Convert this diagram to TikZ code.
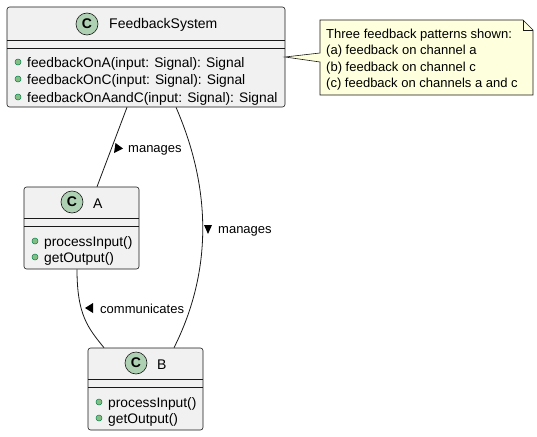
\documentclass[tikz,border=0pt]{standalone}
\usepackage{fontspec}
\setmainfont{Liberation Sans}
\begin{document}
\begin{tikzpicture}[x=1pt,y=-1pt,
  classbox/.style={draw=black!90,fill=boxfill,line width=0.6pt,rounded corners=2.5pt,inner sep=0pt},
  sep/.style={draw=black!90,line width=0.6pt},
  cbadge/.style={circle,draw=black!90,fill=badge,line width=0.6pt,minimum size=22pt,inner sep=0pt,font=\fontsize{14}{14}\selectfont\bfseries},
  ttl/.style={anchor=base west,inner sep=0pt,font=\fontsize{14}{14}\selectfont},
  mem/.style={anchor=base west,inner sep=0pt,font=\fontsize{13.8}{13.8}\selectfont},
  lbl/.style={anchor=base west,inner sep=0pt,font=\fontsize{13}{13}\selectfont},
  bullet/.style={circle,draw=bulletdraw,fill=bulletfill,line width=0.5pt,minimum size=6pt,inner sep=0pt},
  edge/.style={draw=black!90,line width=0.8pt},
  tri/.style={fill=black}
]
\definecolor{boxfill}{HTML}{F1F1F1}
\definecolor{badge}{HTML}{ADD1B2}
\definecolor{bulletfill}{HTML}{84BE84}
\definecolor{bulletdraw}{HTML}{038048}
\definecolor{notefill}{HTML}{FEFFDD}
\useasboundingbox (0,0) rectangle (537,436);

% FeedbackSystem
\node[classbox,minimum width=278pt,minimum height=100pt] (fs) at (146,57) {};
\draw[sep] (7,40) -- (285,40) (7,48) -- (285,48);
\node[cbadge] (fsc) at (87,24) {C};
\node[ttl] (fst) at (109,29) {FeedbackSystem};
\node[bullet] (fsb1) at (18,62) {};
\node[bullet] (fsb2) at (18,79) {};
\node[bullet] (fsb3) at (18,97) {};
\node[mem] (fsm1) at (27,67) {feedbackOnA(input: Signal): Signal};
\node[mem] (fsm2) at (27,84) {feedbackOnC(input: Signal): Signal};
\node[mem] (fsm3) at (27,102) {feedbackOnAandC(input: Signal): Signal};

% A
\node[classbox,minimum width=115pt,minimum height=82pt] (a) at (81.5,228) {};
\draw[sep] (24,218) -- (139,218) (24,226) -- (139,226);
\node[cbadge] (ac) at (72,202) {C};
\node[ttl] (at) at (93,208) {A};
\node[bullet] (ab1) at (35,241) {};
\node[bullet] (ab2) at (35,257) {};
\node[mem] (am1) at (44,246) {processInput()};
\node[mem] (am2) at (44,262) {getOutput()};

% B
\node[classbox,minimum width=115pt,minimum height=82pt] (b) at (145.5,389) {};
\draw[sep] (88,379) -- (203,379) (88,387) -- (203,387);
\node[cbadge] (bc) at (136,363) {C};
\node[ttl] (bt) at (157,369) {B};
\node[bullet] (bb1) at (99,402) {};
\node[bullet] (bb2) at (99,418) {};
\node[mem] (bm1) at (108,407) {processInput()};
\node[mem] (bm2) at (108,423) {getOutput()};

% Note
\coordinate (n1) at (320,53);
\coordinate (n2) at (320,62);
\coordinate (fsr) at (285,57);
\draw[draw=black!90,fill=notefill,line width=0.6pt]
  (320,20) -- (523,20) -- (533,30) -- (533,95) -- (320,95) -- (n2) -- (fsr) -- (n1) -- cycle;
\draw[draw=black!90,line width=0.6pt] (523,20) -- (523,30) -- (533,30);
\node[lbl] (nt1) at (326,39) {Three feedback patterns shown:};
\node[lbl] (nt2) at (326,55) {(a) feedback on channel a};
\node[lbl] (nt3) at (326,71) {(b) feedback on channel c};
\node[lbl] (nt4) at (326,87) {(c) feedback on channels a and c};

% Connectors
\draw[edge] ([xshift=-19pt]fs.south) -- ([xshift=15.5pt]a.north);
\draw[edge] ([xshift=30pt]fs.south) .. controls (212,190) and (212,272) .. ([xshift=28.5pt]b.north);
\draw[edge] ([xshift=-4.5pt]a.south) .. controls (77,315) and (88,328) .. ([xshift=-41.5pt]b.north);

% Labels
\fill[tri] (115.5,143) -- (123,148.5) -- (114,153) -- cycle;
\node[lbl] (l1) at (128,152) {manages};
\fill[tri] (204,225) -- (212,225) -- (208,234) -- cycle;
\node[lbl] (l2) at (218,233) {manages};
\fill[tri] (93,303) -- (85,308) -- (93,313) -- cycle;
\node[lbl] (l3) at (100,313) {communicates};
\end{tikzpicture}
\end{document}
